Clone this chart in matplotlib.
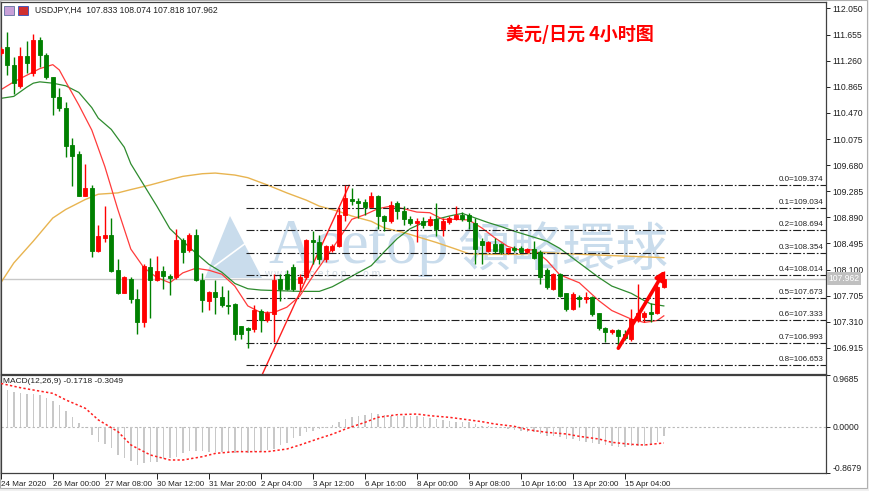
import matplotlib
matplotlib.use("Agg")
import matplotlib.pyplot as plt
from matplotlib.patches import Rectangle, Polygon
import numpy as np

# ---- candle data (USDJPY H4, 24 Mar 16:00 -> 15 Apr) ----
opens = [111.38, 111.46, 111.19, 110.87, 111.33, 111.07, 111.57, 111.35, 111.01, 110.71,
         110.55, 109.99, 109.85, 109.22, 109.34, 108.38, 108.58, 108.63, 108.09, 107.75,
         107.96, 107.66, 107.31, 108.14, 107.94, 108.08, 108.00, 107.98, 108.55, 108.40,
         108.62, 107.94, 107.63, 107.76, 107.69, 107.57, 107.58, 107.24, 107.22, 107.20,
         107.48, 107.33, 107.43, 107.95, 108.04, 108.14, 107.90, 107.98, 108.55, 108.51,
         108.26, 108.39, 108.45, 108.93, 109.17, 109.14, 109.12, 109.05, 109.22, 108.91,
         108.83, 109.11, 108.98, 108.87, 108.80, 108.83, 108.78, 108.86, 108.72, 108.82,
         108.86, 108.93, 108.93, 108.81, 108.53, 108.38, 108.49, 108.48, 108.37, 108.42,
         108.42, 108.37, 108.41, 108.36, 108.10, 107.81, 108.03, 107.74, 107.51, 107.68,
         107.66, 107.68, 107.44, 107.21, 107.16, 107.18, 107.13, 107.05, 107.33, 107.38,
         107.46, 107.44, 107.833]
highs = [111.47, 111.70, 111.31, 111.47, 111.56, 111.67, 111.62, 111.37, 111.02, 110.84,
         110.64, 110.09, 109.89, 109.70, 109.38, 108.78, 109.06, 108.88, 108.26, 108.00,
         107.99, 107.80, 108.18, 108.28, 108.30, 108.16, 108.04, 108.72, 108.57, 108.66,
         108.72, 108.05, 107.78, 107.94, 107.85, 107.79, 107.59, 107.25, 107.23, 107.56,
         107.50, 107.47, 108.03, 108.03, 108.10, 108.19, 108.03, 108.56, 108.68, 108.63,
         108.47, 108.48, 109.03, 109.374, 109.33, 109.18, 109.17, 109.27, 109.23, 108.92,
         109.13, 109.13, 109.06, 108.91, 108.88, 108.90, 108.91, 109.11, 108.88, 108.91,
         109.06, 108.97, 108.96, 108.88, 108.58, 108.53, 108.57, 108.50, 108.43, 108.46,
         108.45, 108.43, 108.53, 108.40, 108.13, 108.05, 108.05, 107.75, 107.76, 107.71,
         107.76, 107.70, 107.45, 107.23, 107.20, 107.20, 107.18, 107.50, 107.88, 107.48,
         107.60, 107.86, 108.074]
lows = [111.35, 111.04, 110.75, 110.85, 111.07, 111.03, 111.17, 110.99, 110.44, 110.50,
        109.81, 109.37, 109.21, 109.21, 108.29, 108.36, 108.52, 108.06, 107.73, 107.74,
        107.59, 107.13, 107.23, 107.36, 107.92, 107.81, 107.71, 107.96, 108.20, 108.36,
        107.92, 107.46, 107.49, 107.43, 107.54, 107.43, 107.03, 107.05, 106.92, 107.15,
        107.15, 107.30, 107.00, 107.63, 107.79, 107.78, 107.79, 107.95, 108.18, 108.18,
        108.22, 108.37, 108.44, 108.83, 109.08, 108.88, 108.93, 109.04, 108.72, 108.68,
        108.81, 108.86, 108.78, 108.77, 108.51, 108.73, 108.76, 108.61, 108.61, 108.79,
        108.85, 108.83, 108.71, 108.18, 108.18, 108.36, 108.35, 108.33, 108.33, 108.37,
        108.36, 108.35, 108.26, 107.88, 107.80, 107.79, 107.68, 107.48, 107.49, 107.54,
        107.59, 107.40, 107.18, 107.00, 107.13, 106.95, 107.03, 107.02, 107.31, 107.30,
        107.30, 107.43, 107.818]
closes = [111.44, 111.19, 110.92, 111.33, 111.22, 111.57, 111.34, 111.02, 110.71, 110.54,
          109.97, 109.82, 109.22, 109.34, 108.38, 108.61, 108.62, 108.08, 107.75, 107.99,
          107.65, 107.30, 108.15, 107.94, 108.08, 108.00, 107.97, 108.55, 108.36, 108.62,
          107.94, 107.64, 107.76, 107.69, 107.56, 107.55, 107.13, 107.13, 107.19, 107.49,
          107.33, 107.44, 107.94, 107.81, 107.80, 107.80, 107.98, 108.55, 108.51, 108.26,
          108.45, 108.45, 108.93, 109.18, 109.13, 109.11, 109.05, 109.22, 108.91, 108.83,
          109.08, 108.98, 108.86, 108.80, 108.84, 108.78, 108.86, 108.72, 108.83, 108.88,
          108.93, 108.86, 108.83, 108.41, 108.47, 108.52, 108.38, 108.36, 108.42, 108.40,
          108.37, 108.41, 108.28, 107.98, 107.83, 108.03, 107.70, 107.50, 107.73, 107.66,
          107.69, 107.43, 107.21, 107.16, 107.18, 107.10, 107.06, 107.35, 107.45, 107.45,
          107.43, 107.83, 107.962]

# moving averages (bar index, price)
ma_fast_i = [0, 2, 4, 6, 8, 9, 10, 12, 14, 16, 18, 20, 22, 24, 26, 28, 30, 32, 34, 36, 38, 40,
             42, 44, 46, 48, 50, 52, 54, 56, 58, 60, 62, 64, 66, 68, 70, 72, 74, 76, 78, 80,
             82, 84, 86, 89, 92, 94, 97, 99, 101, 102]
ma_fast_v = [110.82, 110.94, 111.04, 111.14, 111.20, 111.12, 110.94, 110.59, 110.21, 109.66,
             109.01, 108.41, 108.13, 107.98, 107.90, 108.05, 108.12, 108.09, 108.03, 107.85,
             107.55, 107.45, 107.45, 107.53, 107.70, 108.00, 108.28, 108.56, 108.86, 108.93,
             109.02, 109.06, 109.02, 108.97, 108.96, 108.86, 108.86, 108.85, 108.73, 108.58,
             108.45, 108.39, 108.40, 108.24, 108.02, 107.90, 107.63, 107.48, 107.35, 107.30,
             107.33, 107.40]
ma_mid_i = [0, 2, 3, 4, 5, 6, 8, 10, 12, 14, 15, 17, 19, 20, 22, 24, 26, 28, 30, 32, 34, 36,
            38, 40, 43, 46, 49, 51, 54, 57, 59, 61, 63, 65, 67, 69, 71, 73, 75, 77, 79, 81,
            84, 86, 89, 92, 94, 97, 99, 100, 102]
ma_mid_v = [110.69, 110.72, 110.79, 110.86, 110.92, 110.94, 110.92, 110.88, 110.78, 110.55,
            110.39, 110.22, 109.95, 109.70, 109.38, 109.06, 108.72, 108.53, 108.35, 108.18,
            108.06, 107.89, 107.81, 107.79, 107.78, 107.77, 107.77, 107.84, 108.00, 108.16,
            108.37, 108.57, 108.72, 108.81, 108.86, 108.91, 108.95, 108.88, 108.81, 108.75,
            108.68, 108.62, 108.53, 108.42, 108.20, 107.98, 107.85, 107.74, 107.63, 107.58,
            107.55]
ma_slow_i = [0, 2, 5, 8, 10, 13, 15, 18, 20, 23, 26, 28, 31, 33, 36, 38, 41, 44, 47, 49, 52,
             54, 57, 59, 62, 65, 67, 70, 72, 75, 80, 83, 87, 92, 97, 102]
ma_slow_v = [107.90, 108.20, 108.53, 108.88, 109.01, 109.16, 109.24, 109.26, 109.31, 109.38,
             109.46, 109.51, 109.55, 109.56, 109.53, 109.49, 109.38, 109.26, 109.15, 109.06,
             108.98, 108.91, 108.83, 108.73, 108.66, 108.57, 108.51, 108.41, 108.34, 108.33,
             108.33, 108.36, 108.34, 108.32, 108.30, 108.28]

# MACD(12,26,9)
macd_hist = [0.72, 0.687, 0.655, 0.624, 0.606, 0.606, 0.593, 0.543, 0.481, 0.406,
             0.293, 0.187, 0.062, -0.031, -0.156, -0.281, -0.331, -0.393, -0.531, -0.581,
             -0.643, -0.718, -0.687, -0.668, -0.655, -0.605, -0.581, -0.562, -0.499, -0.456,
             -0.456, -0.456, -0.468, -0.468, -0.468, -0.468, -0.499, -0.468, -0.499, -0.468,
             -0.468, -0.437, -0.418, -0.343, -0.312, -0.218, -0.169, -0.106, -0.081, -0.044,
             -0.031, 0.031, 0.09, 0.143, 0.175, 0.206, 0.218, 0.256, 0.237, 0.218,
             0.206, 0.206, 0.206, 0.206, 0.193, 0.175, 0.156, 0.143, 0.131, 0.112,
             0.094, 0.081, 0.081, 0.05, 0.019, 0.006, -0.005, -0.031, -0.044, -0.056,
             -0.075, -0.094, -0.106, -0.137, -0.168, -0.168, -0.2, -0.231, -0.231, -0.262,
             -0.293, -0.306, -0.325, -0.343, -0.368, -0.387, -0.387, -0.368, -0.368, -0.356,
             -0.343, -0.293, -0.1718]
signal_i = [0, 3, 5, 8, 10, 13, 15, 18, 20, 23, 26, 28, 31, 33, 36, 38, 41, 44, 46, 49, 51,
            53, 56, 58, 61, 64, 66, 69, 71, 74, 76, 79, 81, 84, 87, 89, 92, 94, 97, 99, 102]
signal_v = [0.81, 0.73, 0.687, 0.624, 0.50, 0.343, 0.125, -0.094, -0.343, -0.531, -0.624,
            -0.624, -0.562, -0.50, -0.468, -0.468, -0.468, -0.418, -0.343, -0.218, -0.14,
            -0.044, 0.081, 0.175, 0.225, 0.237, 0.206, 0.175, 0.143, 0.094, 0.05, 0.006,
            -0.056, -0.106, -0.137, -0.181, -0.231, -0.293, -0.331, -0.343, -0.3049]

# fibonacci retracement
fib_names = ["0.0", "0.1", "0.2", "0.3", "0.4", "0.5", "0.6", "0.7", "0.8"]
fib_levels = [109.374, 109.034, 108.694, 108.354, 108.014, 107.673, 107.333, 106.993, 106.653]
fib_anchor_i = [37.7, 53.6]
fib_anchor_p = [105.974, 109.374]

price_ticks = [112.050, 111.655, 111.260, 110.865, 110.470, 110.075, 109.680, 109.285,
               108.890, 108.495, 108.100, 107.705, 107.310, 106.915]
date_pos = [0, 8, 16, 24, 32, 40, 48, 56, 64, 72, 80, 88, 96]
date_labels = ["24 Mar 2020", "26 Mar 00:00", "27 Mar 08:00", "30 Mar 12:00", "31 Mar 20:00",
               "2 Apr 04:00", "3 Apr 12:00", "6 Apr 16:00", "8 Apr 00:00", "9 Apr 08:00",
               "10 Apr 16:00", "13 Apr 20:00", "15 Apr 04:00"]
last_price = 107.962
arrow_start = (95.0, 106.91)
arrow_end = (102.2, 108.09)

W, H = 870, 491
def box(x0, y0, x1, y1):
    return [x0 / W, 1 - y1 / H, (x1 - x0) / W, (y1 - y0) / H]

def fpt(px, py):
    # pixel position -> figure fraction
    return (px / W, 1 - py / H)

FONT = "Liberation Sans"
fig = plt.figure(figsize=(W / 100, H / 100), dpi=100, facecolor="#f0f0f0")
fig.patches.append(Rectangle((0, 3 / H), 867 / W, 1 - 3 / H, transform=fig.transFigure,
                             facecolor="white", edgecolor="#b0b0b0", lw=0.8, zorder=-5))

ax = fig.add_axes(box(1, 2, 826, 374))
axm = fig.add_axes(box(1, 375, 826, 473))
xmin, xmax = 0.03, 126.95
for a in (ax, axm):
    a.set_xlim(xmin, xmax)
    a.set_facecolor("none")
    for s in a.spines.values():
        s.set_color("#404040")
        s.set_linewidth(0.9)
    a.yaxis.tick_right()
    a.tick_params(axis="y", length=3, width=0.7, pad=1.5, labelsize=6.2, colors="#202020")
ax.set_ylim(106.520, 112.148)
ax.set_xticks([])
ax.set_yticks(price_ticks)
ax.set_yticklabels(["%.3f" % p for p in price_ticks], fontfamily=FONT, fontsize=6.2)

# watermark
wm = "#c9dcec"
ax.text(*fpt(268, 263), "Acetop", transform=fig.transFigure, fontfamily="Liberation Serif",
        fontsize=45, color=wm, va="baseline", ha="left", zorder=0)
ax.text(*fpt(457, 251), "領略環球", transform=fig.transFigure,
        fontfamily=["Noto Sans CJK TC", "DejaVu Sans"], fontsize=38,
        color=wm, va="center", ha="left", zorder=0)
ax.text(*fpt(264, 274), "w w w . a c e t o p . c o m", transform=fig.transFigure,
        fontfamily=FONT, fontsize=7.5, color="#d0dae3", va="center", zorder=0)
ax.add_patch(Polygon([fpt(205, 278), fpt(230, 216), fpt(262, 278)], closed=True,
                     transform=fig.transFigure, facecolor=wm, edgecolor="none", zorder=0,
                     clip_on=False))
ax.plot([fpt(212, 268)[0], fpt(250, 240)[0]], [fpt(212, 268)[1], fpt(250, 240)[1]],
        transform=fig.transFigure, color="white", lw=1.2, zorder=0)

x = np.arange(len(opens))
o = np.array(opens); c = np.array(closes)
up = c >= o
cols = np.where(up, "#ff0000", "#008000")

# current price line
ax.axhline(last_price, color="#c8c8c8", lw=1, zorder=1)

# moving averages
ax.plot(ma_slow_i, ma_slow_v, color="#e8b450", lw=1, zorder=2)
ax.plot(ma_mid_i, ma_mid_v, color="#2e8b2e", lw=0.9, zorder=2)
ax.plot(ma_fast_i, ma_fast_v, color="#ff3b3b", lw=0.9, zorder=2)

# fib
ax.plot(fib_anchor_i, fib_anchor_p, color="#ff2020", lw=1, zorder=2)
ax.hlines(fib_levels, fib_anchor_i[0], xmax, colors="#202020", lw=0.8,
          linestyles=[(0, (7.2, 1.8, 1.5, 1.8))], zorder=2)
for name, lv in zip(fib_names, fib_levels):
    ax.annotate("%s=%.3f" % (name, lv), xy=(xmax, lv), xytext=(-2, 1.5),
                textcoords="offset points", ha="right", va="bottom", fontsize=5.8,
                fontfamily=FONT, color="#202020", zorder=4)

# candles
ax.vlines(x, lows, highs, colors=cols, lw=1, zorder=3)
ax.bar(x, c - o, bottom=o, width=0.62, color=cols, edgecolor=cols, lw=0.6, zorder=3)

ax.annotate("", xy=arrow_end, xytext=arrow_start,
            arrowprops=dict(arrowstyle="-|>", color="#ff0000", lw=2.6, mutation_scale=13,
                            shrinkA=0, shrinkB=0), zorder=5)

ax.text(1.003, last_price, "%.3f" % last_price, transform=ax.get_yaxis_transform(),
        ha="left", va="center", fontsize=6.2, fontfamily=FONT, color="white",
        bbox=dict(boxstyle="square,pad=0.2", facecolor="#c0c0c0", edgecolor="none"))

# MACD panel
axm.set_ylim(-0.8679, 0.9685)
axm.axhline(0, color="#b8b8b8", lw=0.8, ls=(0, (2, 2)), zorder=1)
axm.bar(x, macd_hist, width=0.25, color="#c8c8c8", zorder=2)
axm.plot(signal_i, signal_v, color="#ff2020", lw=1.1, ls=(0, (1.5, 1.5)), zorder=3)
axm.set_yticks([0.9685, 0.0, -0.8679])
axm.set_yticklabels(["0.9685", "0.0000", "-0.8679"], fontfamily=FONT, fontsize=6.2)
labs = axm.get_yticklabels()
labs[0].set_va("top")
labs[2].set_va("bottom")
axm.set_xticks(date_pos)
axm.set_xticklabels(date_labels, fontfamily=FONT, fontsize=5.8, ha="left")
axm.tick_params(axis="x", length=4, width=0.7, pad=1.5, colors="#202020")
axm.text(0.003, 0.97, "MACD(12,26,9) -0.1718 -0.3049", transform=axm.transAxes,
         fontsize=6.0, fontfamily=FONT, va="top", ha="left", color="#202020")

# header and title
fig.text(35 / W, 1 - 10 / H, "USDJPY,H4  107.833 108.074 107.818 107.962", fontsize=6.2,
         fontfamily=FONT, va="center", ha="left", color="#202020")
fig.patches.append(Rectangle((4 / W, 1 - 15 / H), 10 / W, 9 / H, transform=fig.transFigure,
                             facecolor="#c8a0d8", edgecolor="#6070a0", lw=0.6))
fig.patches.append(Rectangle((18 / W, 1 - 15 / H), 10 / W, 9 / H, transform=fig.transFigure,
                             facecolor="#d03030", edgecolor="#3050c0", lw=0.6))
fig.text(580 / W, 1 - 34 / H, "美元/日元 4小时图", fontsize=13, color="#ff0000",
         fontfamily=["Noto Sans CJK SC", "DejaVu Sans"], fontweight="bold",
         ha="center", va="center")

fig.savefig("out.png", dpi=100, facecolor=fig.get_facecolor())
